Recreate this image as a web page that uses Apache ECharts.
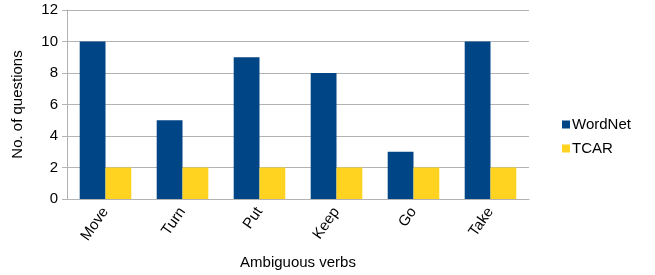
<!DOCTYPE html>
<html>
<head>
<meta charset="utf-8">
<script src="https://cdn.jsdelivr.net/npm/echarts@6/dist/echarts.min.js"></script>
<style>
  html, body { margin: 0; padding: 0; background: #fff; }
  #chart { width: 655px; height: 275px; }
</style>
</head>
<body>
<div id="chart"></div>
<script>
var verbs = ['Move', 'Turn', 'Put', 'Keep', 'Go', 'Take'];
var wordnet = [10, 5, 9, 8, 3, 10];
var tcar = [2, 2, 2, 2, 2, 2];

var chart = echarts.init(document.getElementById('chart'));
var font = 'Liberation Sans';
var option = {
	animation: false,
	textStyle: { fontFamily: font },
	grid: { left: 67, right: 126, top: 10, bottom: 76, outerBoundsMode: 'none', containLabel: false },
	legend: {
		orient: 'vertical',
		left: 557, top: 112,
		itemWidth: 8, itemHeight: 8, itemGap: 9,
		icon: 'rect',
		textStyle: { fontSize: 15, color: '#000', fontFamily: font, padding: [0, 0, 0, -3] },
		data: ['WordNet', 'TCAR']
	},
	xAxis: {
		type: 'category',
		data: verbs,
		name: 'Ambiguous verbs',
		nameLocation: 'middle',
		nameGap: 56,
		nameTextStyle: { fontSize: 15, color: '#000' },
		axisLine: { lineStyle: { color: '#b3b3b3' } },
		axisTick: { length: 4, lineStyle: { color: '#b3b3b3' } },
		axisLabel: { rotate: 55, fontSize: 15, color: '#000', margin: 10 }
	},
	yAxis: {
		type: 'value',
		min: 0, max: 12, interval: 2,
		name: 'No. of questions',
		nameLocation: 'middle',
		nameGap: 42,
		nameTextStyle: { fontSize: 15, color: '#000' },
		axisLine: { show: true, lineStyle: { color: '#b3b3b3' } },
		axisTick: { show: true, length: 5, lineStyle: { color: '#b3b3b3' } },
		axisLabel: { fontSize: 15, color: '#000', margin: 9 },
		splitLine: { lineStyle: { color: '#b3b3b3' } }
	},
	series: [
		{
			name: 'WordNet', type: 'bar', data: wordnet,
			itemStyle: { color: '#004586' },
			barGap: '0%', barCategoryGap: '33%'
		},
		{
			name: 'TCAR', type: 'bar', data: tcar,
			itemStyle: { color: '#ffd320' }
		}
	]
};
chart.setOption(option);
</script>
</body>
</html>
